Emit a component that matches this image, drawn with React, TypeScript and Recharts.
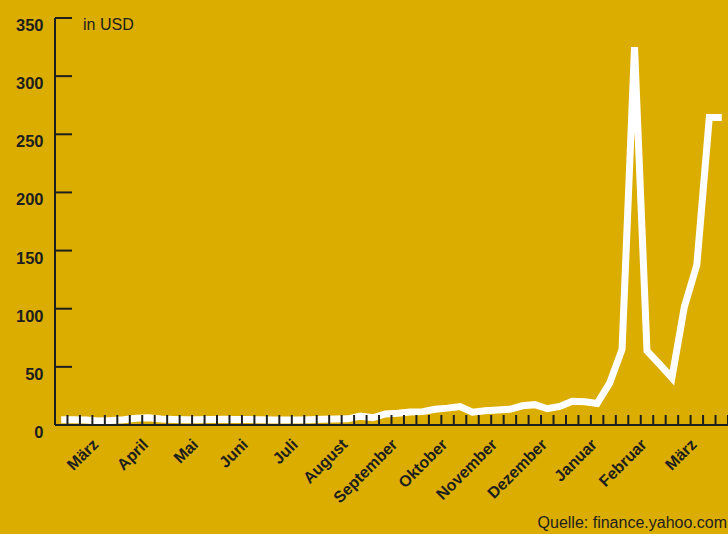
import React from 'react'
import { LineChart, Line, XAxis, YAxis } from 'recharts'

// weekly closing price in USD, one value per week
const WEEK_VALUES = [
  4.5, 4.6, 4.2, 3.5, 3.8, 4.6, 5.8, 6.3, 5.2, 4.8,
  4.5, 4.6, 4.7, 5.0, 4.8, 4.7, 4.5, 4.4, 4.3, 4.4,
  4.6, 4.9, 5.1, 5.3, 7.6, 6.2, 9.5, 10.2, 11.2, 11.5,
  13.5, 14.5, 15.8, 11.0, 12.3, 12.8, 13.5, 16.5, 17.5, 14.0,
  16.0, 20.5, 20.0, 18.5, 36.0, 65.0, 325.0, 63.8, 52.4, 40.6,
  101.7, 137.7, 264.5, 264.5,
]

const Y_TICKS = [0, 50, 100, 150, 200, 250, 300, 350]

const MONTH_LABELS = [
  'März', 'April', 'Mai', 'Juni', 'Juli', 'August', 'September',
  'Oktober', 'November', 'Dezember', 'Januar', 'Februar', 'März',
]
// week boundary where each month label sits
const MONTH_TICKS = [2.5, 6.5, 10.5, 14.5, 18.5, 22.5, 26.5, 30.5, 34.5, 38.5, 42.5, 46.5, 50.5]

// one tick mark between every two weeks
const WEEK_BOUNDARIES = WEEK_VALUES.map((_, i) => i + 0.5)

const BG = '#DAAD00'
const INK = '#1e1e1e'
const FONT = '"Liberation Sans", Arial, Helvetica, sans-serif'

const data = WEEK_VALUES.map((price, week) => ({ week, price }))

function PriceTick(props: any) {
  const { x, y, payload } = props
  return (
    <g>
      <line x1={x + 12} x2={x + 29} y1={y} y2={y} stroke={INK} strokeWidth={2} />
      <text
        x={x + 0.5}
        y={y}
        dy={13}
        textAnchor="end"
        fill={INK}
        fontSize={16.5}
        fontWeight="bold"
        fontFamily={FONT}
      >
        {payload.value}
      </text>
    </g>
  )
}

function WeekTick(props: any) {
  const { x, y, payload } = props
  const idx = MONTH_TICKS.indexOf(payload.value)
  const tx = x + 7
  const ty = y + 20.5
  return (
    <g>
      <line x1={x} x2={x} y1={y} y2={y - 10} stroke={INK} strokeWidth={2} />
      {idx >= 0 && (
        <text
          x={tx}
          y={ty}
          transform={`rotate(-45 ${tx} ${ty})`}
          textAnchor="end"
          fill={INK}
          fontSize={16}
          fontWeight="bold"
          fontFamily={FONT}
        >
          {MONTH_LABELS[idx]}
        </text>
      )}
    </g>
  )
}

export default function App() {
  return (
    <div
      style={{
        position: 'fixed',
        left: 0,
        top: 0,
        width: 728,
        height: 534,
        background: BG,
        overflow: 'hidden',
        fontFamily: FONT,
      }}
    >
      <LineChart
        width={728}
        height={534}
        data={data}
        margin={{ top: 18, right: 0, bottom: 0, left: 0 }}
      >
        <XAxis
          dataKey="week"
          type="number"
          domain={[-0.5, 53.5]}
          ticks={WEEK_BOUNDARIES}
          interval={0}
          height={109}
          tickSize={0}
          tickMargin={0}
          tickLine={false}
          axisLine={{ stroke: INK, strokeWidth: 2 }}
          tick={<WeekTick />}
        />
        <YAxis
          type="number"
          domain={[0, 350]}
          ticks={Y_TICKS}
          interval={0}
          width={55}
          tickSize={0}
          tickMargin={12}
          tickLine={false}
          axisLine={{ stroke: INK, strokeWidth: 2 }}
          tick={<PriceTick />}
        />
        <Line
          type="linear"
          dataKey="price"
          stroke="#ffffff"
          strokeWidth={7}
          dot={false}
          activeDot={false}
          isAnimationActive={false}
        />
      </LineChart>
      <div
        style={{
          position: 'absolute',
          left: 83,
          top: 17,
          fontSize: 16,
          lineHeight: '16px',
          color: INK,
        }}
      >
        in USD
      </div>
      <div
        style={{
          position: 'absolute',
          right: 1,
          top: 515,
          fontSize: 16,
          lineHeight: '16px',
          color: INK,
          whiteSpace: 'nowrap',
        }}
      >
        Quelle: finance.yahoo.com
      </div>
    </div>
  )
}
